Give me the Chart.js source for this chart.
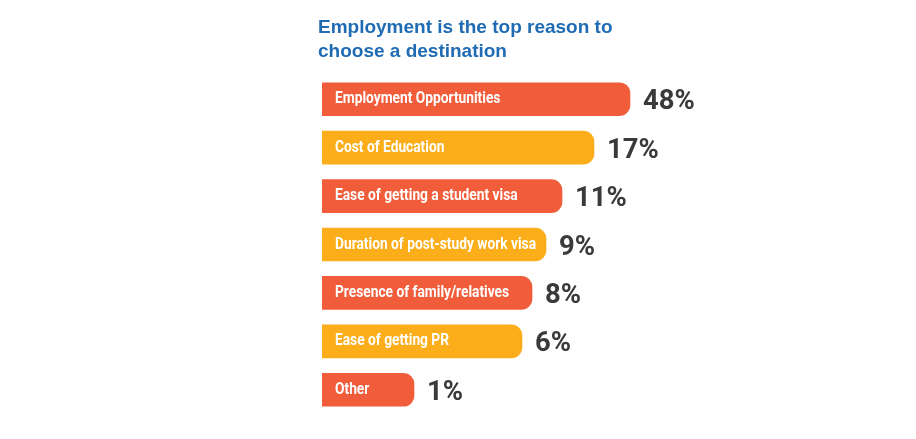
<!DOCTYPE html>
<html>
<head>
<meta charset="utf-8">
<script src="https://cdn.jsdelivr.net/npm/chart.js@4/dist/chart.umd.min.js"></script>
<style>
  html, body { margin: 0; padding: 0; background: #fff; }
  #wrap { width: 916px; height: 439px; }
</style>
</head>
<body>
<div id="wrap"><canvas id="myChart" width="916" height="439"></canvas></div>
<script>
const titleLines = ["Employment is the top reason to", "choose a destination"];
const reasons = [
  "Employment Opportunities",
  "Cost of Education",
  "Ease of getting a student visa",
  "Duration of post-study work visa",
  "Presence of family/relatives",
  "Ease of getting PR",
  "Other",
];
const shares = [48, 17, 11, 9, 8, 6, 1];
// the infographic's bars are not drawn to scale, so their lengths are read off the picture separately
const barLength = [77, 68, 60, 56, 52.5, 50, 23];
const barColors = ["#F15D3B", "#FBAD1A", "#F15D3B", "#FBAD1A", "#F15D3B", "#FBAD1A", "#F15D3B"];

// no condensed face installed, so squeeze Roboto horizontally
function narrowText(ctx, text, x, y, squeeze) {
  ctx.save();
  ctx.translate(x, y);
  ctx.scale(squeeze, 1);
  ctx.fillText(text, 0, 0);
  ctx.restore();
}

const labelsPlugin = {
  id: "labels",
  afterDatasetsDraw(chart) {
    const ctx = chart.ctx;
    const meta = chart.getDatasetMeta(0);
    ctx.save();
    // title
    ctx.fillStyle = "#1F6BB4";
    ctx.font = "bold 19px 'Liberation Sans', Arial, sans-serif";
    ctx.textBaseline = "alphabetic";
    ctx.textAlign = "left";
    titleLines.forEach((t, i) => ctx.fillText(t, 318, 33 + i * 24));

    meta.data.forEach((bar, i) => {
      ctx.textBaseline = "middle";
      ctx.fillStyle = "#ffffff";
      ctx.font = "bold 16px Roboto, sans-serif";
      narrowText(ctx, reasons[i], chart.chartArea.left + 13, bar.y, 0.86);
      ctx.fillStyle = "#3a3a3a";
      ctx.font = "bold 28px Roboto, sans-serif";
      narrowText(ctx, shares[i] + "%", bar.x + 13, bar.y + 3, 0.98);
    });
    ctx.restore();
  },
};

new Chart(document.getElementById("myChart"), {
  type: "bar",
  data: {
    labels: reasons,
    datasets: [{
      data: barLength,
      backgroundColor: barColors,
      borderRadius: { topLeft: 0, bottomLeft: 0, topRight: 11, bottomRight: 11 },
      borderSkipped: false,
      barThickness: 33,
    }],
  },
  options: {
    indexAxis: "y",
    responsive: false,
    animation: false,
    events: [],
    layout: { padding: { left: 322, right: 194, top: 75, bottom: 25 } },
    scales: {
      x: { display: false, min: 0, max: 100 },
      y: { display: false },
    },
    plugins: {
      legend: { display: false },
      tooltip: { enabled: false },
    },
  },
  plugins: [labelsPlugin],
});
</script>
</body>
</html>
